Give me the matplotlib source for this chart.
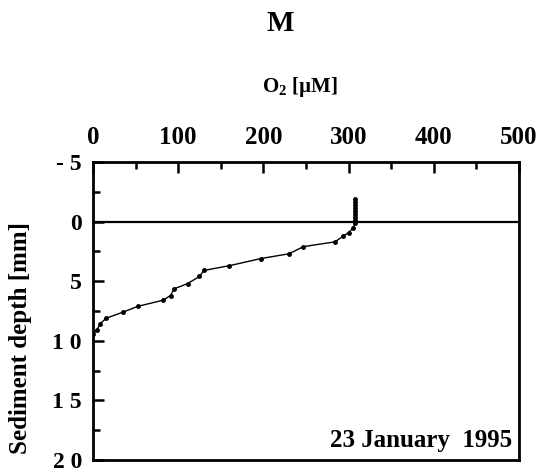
# O2 microprofile, station M, 23 January 1995

import matplotlib
matplotlib.use('Agg')
import matplotlib.pyplot as plt
from matplotlib.ticker import MultipleLocator

o2 = [307.5, 307.5, 307.5, 307.5, 307.5, 307.5, 307.5, 307.5, 307.5, 305.6, 300, 294, 284,
      247, 230, 197, 160, 130, 125, 111, 95, 91, 82, 53, 35, 15.6, 8, 4.7, 0.5]
depth = [-1.9, -1.65, -1.4, -1.15, -0.9, -0.65, -0.4, -0.15, 0.1, 0.5, 0.93, 1.2, 1.7,
         2.1, 2.7, 3.1, 3.7, 4.1, 4.6, 5.2, 5.65, 6.2, 6.6, 7.1, 7.6, 8.1, 8.6, 9.1, 9.4]

x_ticks = [0, 100, 200, 300, 400, 500]
x_labels = ['0', '100', '200', '300', '400', '500']
y_ticks = [-5, 0, 5, 10, 15, 20]
y_labels = ['- 5', '0', '5', '1 0', '1 5', '2 0']

plt.rcParams['font.family'] = ['Liberation Serif', 'DejaVu Serif']
plt.rcParams['font.weight'] = 'bold'
plt.rcParams['mathtext.default'] = 'regular'

fig = plt.figure(figsize=(5.48, 4.72), dpi=100)
ax = fig.add_axes([0.1697, 0.0254, 0.7774, 0.6314])

ax.plot(o2, depth, color='black', linewidth=1.0, marker='o', markersize=2.5)
ax.axhline(0, color='black', linewidth=1.6)

ax.set_xlim(0, 500)
ax.set_ylim(20, -5)

ax.xaxis.tick_top()
ax.set_xticks(x_ticks)
ax.set_xticklabels(x_labels, fontsize=18, fontweight='bold')
ax.xaxis.set_minor_locator(MultipleLocator(50))
ax.set_yticks(y_ticks)
ax.set_yticklabels(y_labels, fontsize=17, fontweight='bold')
ax.yaxis.set_minor_locator(MultipleLocator(2.5))

ax.tick_params(axis='both', which='major', direction='in', length=8, width=1.8)
ax.tick_params(axis='both', which='minor', direction='in', length=5, width=1.8)
ax.tick_params(axis='x', which='major', pad=9)
ax.tick_params(axis='y', which='major', pad=8)
ax.tick_params(right=False, bottom=False, which='both')

for s in ax.spines.values():
    s.set_linewidth(2)

ax.set_ylabel('Sediment depth [mm]', fontsize=18, fontweight='bold')
ax.yaxis.set_label_coords(-0.143, 0.41)

ax.text(0.485, 1.253, 'O$_2$ [µM]', transform=ax.transAxes, ha='center', va='center',
        fontsize=15, fontweight='bold')
ax.text(0.44, 1.465, 'M', transform=ax.transAxes, ha='center', va='center',
        fontsize=21, fontweight='bold')
ax.text(0.985, 0.067, '23 January  1995', transform=ax.transAxes, ha='right', va='center',
        fontsize=18, fontweight='bold')

fig.savefig('out.png', dpi=100)
